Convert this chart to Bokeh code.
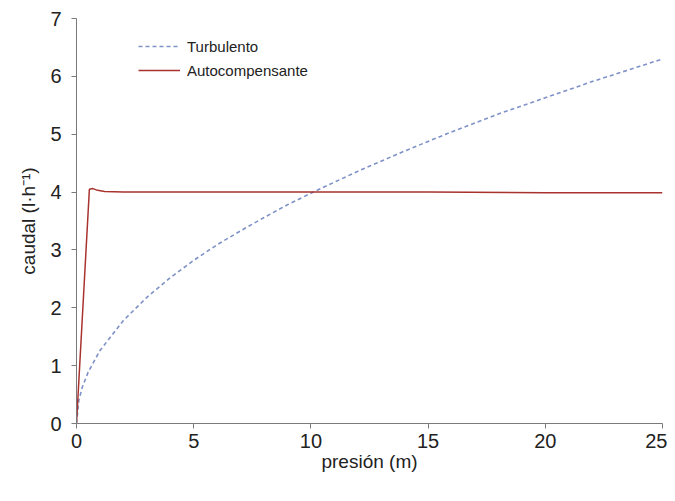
from bokeh.plotting import figure
from bokeh.models import Range1d, Legend, LegendItem, FixedTicker
from bokeh.embed import file_html
from bokeh.resources import INLINE

# Data
turb_x = [0, 0.1, 0.25, 0.5, 1, 2, 3, 4, 5, 6, 7, 8, 9, 10, 12, 14, 16, 18, 20, 22, 24, 25]
turb_y = [0, 0.4, 0.63, 0.89, 1.26, 1.78, 2.18, 2.52, 2.82, 3.09, 3.33, 3.56, 3.78, 3.98, 4.36, 4.71, 5.04, 5.35, 5.63, 5.91, 6.17, 6.30]
auto_x = [0, 0.55, 0.7, 0.9, 1.2, 2, 5, 10, 15, 20, 25]
auto_y = [0, 4.05, 4.06, 4.03, 4.01, 4.0, 4.0, 4.0, 4.0, 3.99, 3.99]
x_ticks = [0, 5, 10, 15, 20, 25]
y_ticks = [0, 1, 2, 3, 4, 5, 6, 7]

p = figure(width=667, height=493, output_backend="svg", toolbar_location=None,
           x_range=Range1d(0, 25), y_range=Range1d(0, 7),
           min_border_left=76, min_border_right=5, min_border_top=18, min_border_bottom=70)
p.outline_line_color = None
p.xgrid.visible = False
p.ygrid.visible = False
p.background_fill_color = "white"

r1 = p.line(turb_x, turb_y, line_color="#7f92c8", line_width=1.6, line_dash="4 3")
r2 = p.line(auto_x, auto_y, line_color="#a8322e", line_width=1.5)

font = "Liberation Sans"
for ax in (p.xaxis[0], p.yaxis[0]):
    ax.axis_line_color = "#7a7a7a"
    ax.major_tick_line_color = "#7a7a7a"
    ax.minor_tick_line_color = None
    ax.major_tick_in = 0
    ax.major_tick_out = 5
    ax.major_label_text_font = font
    ax.major_label_text_font_size = "20px"
    ax.major_label_text_color = "#222222"
    ax.axis_label_text_font = font
    ax.axis_label_text_font_size = "19px"
    ax.axis_label_text_font_style = "normal"
    ax.axis_label_text_color = "#222222"

p.xaxis[0].ticker = FixedTicker(ticks=x_ticks)
p.yaxis[0].ticker = FixedTicker(ticks=y_ticks)
p.xaxis[0].axis_label = "presión (m)"
p.yaxis[0].axis_label = "caudal (l·h⁻¹)"
p.xaxis[0].major_label_standoff = 5
p.xaxis[0].axis_label_standoff = 0
p.yaxis[0].major_label_standoff = 10
p.yaxis[0].axis_label_standoff = 8

legend = Legend(items=[LegendItem(label="Turbulento", renderers=[r1]),
                       LegendItem(label="Autocompensante", renderers=[r2])],
                border_line_color=None, background_fill_alpha=0,
                label_text_font="Liberation Sans", label_text_font_size="15px",
                label_text_color="#222222", label_height=18,
                glyph_width=42, glyph_height=18, spacing=6, label_standoff=7,
                padding=0, margin=0)
p.add_layout(legend, "center")
legend.location = (62, 405 - 19 - 42)

open("out.html", "w").write(file_html(p, INLINE))
